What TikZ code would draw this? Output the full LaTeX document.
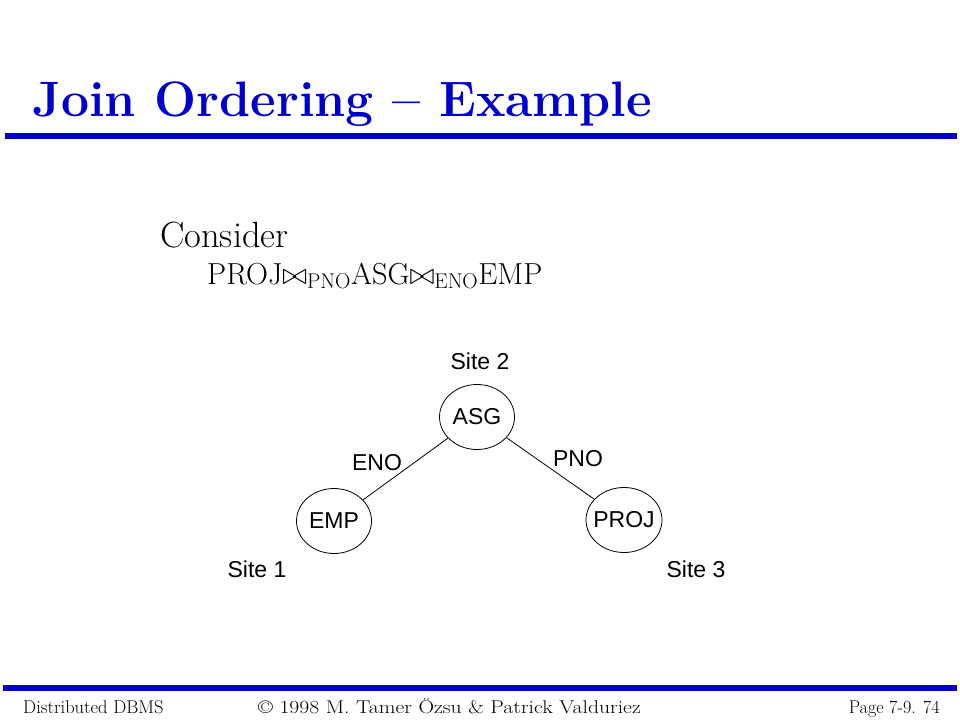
\RequirePackage{fix-cm}
\documentclass[tikz,border=0pt]{standalone}
\usepackage{fontspec}
\newfontfamily\arialfont{Liberation Sans}
\usetikzlibrary{shapes.geometric}
\definecolor{titleblue}{RGB}{0,0,204}
\newcommand{\zw}[1]{\makebox[0pt]{#1}}
\tikzset{
  relnode/.style={draw, ellipse, line width=0.8pt, minimum width=75pt, minimum height=65pt, inner sep=0pt, font=\arialfont\fontsize{23}{27}\selectfont},
  sitelabel/.style={inner sep=0pt, font=\arialfont\fontsize{23}{27}\selectfont},
  edge/.style={line width=0.8pt},
  rule/.style={titleblue, line width=5.5pt},
  foot/.style={inner sep=0pt, font=\fontsize{18.5}{21}\selectfont}
}
\begin{document}
\begin{tikzpicture}[x=1pt,y=-1pt]
\useasboundingbox (0,0) rectangle (960,720);
\fill[white] (0,0) rectangle (960,720);
% title
\node[anchor=base west, inner sep=0pt, text=titleblue, font=\bfseries\fontsize{49.8}{58}\selectfont] (title) at (32,116) {Join Ordering -- Example};
\coordinate (tl) at (5,136);
\coordinate (tr) at (957,136);
\draw[rule] (tl) -- (tr);
% text
\node[anchor=base west, inner sep=0pt, font=\fontsize{36.5}{42}\selectfont] (consider) at (160,247) {Consider};
\node[anchor=base west, inner sep=0pt, font=\fontsize{30.4}{36}\selectfont] (formula) at (207,284) {PROJ$\bowtie_{\mathrm{PNO}}$ASG$\bowtie_{\mathrm{ENO}}$EMP};
% tree
\node[relnode] (asg) at (477,417) {\zw{ASG}};
\node[relnode] (emp) at (334,521) {\zw{EMP}};
\node[relnode, minimum width=76pt] (proj) at (624,520) {\zw{PROJ}};
\draw[edge] (asg) -- (emp);
\draw[edge] (asg) -- (proj);
\node[sitelabel] (s2) at (480,361) {Site 2};
\node[sitelabel] (s1) at (257,569) {Site 1};
\node[sitelabel] (s3) at (696,569) {Site 3};
\node[sitelabel] (eno) at (377,463) {ENO};
\node[sitelabel] (pno) at (578,459) {PNO};
% footer
\coordinate (fl) at (3,688);
\coordinate (fr) at (957,688);
\draw[rule] (fl) -- (fr);
\node[foot, anchor=base west] (f1) at (23,713) {Distributed DBMS};
\node[foot, anchor=base west] (f2) at (258,713) {\scalebox{1.17}[1]{\textcopyright\ 1998 M. Tamer Özsu \& Patrick Valduriez}};
\node[foot, anchor=base east] (f3) at (940,713) {\scalebox{0.98}[1]{Page 7-9. 74}};
\end{tikzpicture}
\end{document}
